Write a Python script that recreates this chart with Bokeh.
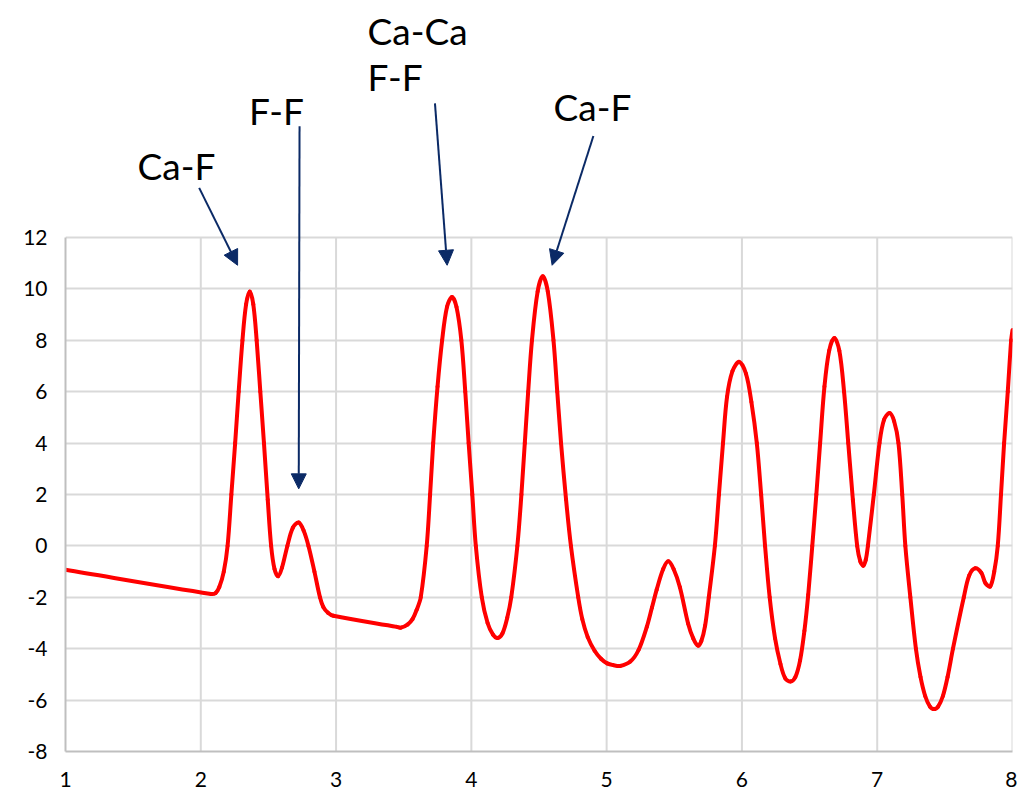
import math
from bokeh.plotting import figure
from bokeh.models import Range1d, FixedTicker, Label, Arrow, NormalHead
from bokeh.embed import file_html
from bokeh.resources import INLINE

# ---- data ----
curve_x = [1.0, 2.076, 2.11, 2.137, 2.17, 2.198, 2.226, 2.254, 2.28, 2.308, 2.335, 2.362,
           2.388, 2.413, 2.44, 2.467, 2.495, 2.52, 2.545, 2.572, 2.60, 2.64, 2.68, 2.723,
           2.76, 2.796, 2.84, 2.881, 2.906, 2.94, 2.98, 3.45, 3.48, 3.53, 3.565, 3.595,
           3.626, 3.67, 3.695, 3.718, 3.75, 3.784, 3.82, 3.857, 3.89, 3.926, 3.955, 3.98,
           4.007, 4.033, 4.077, 4.12, 4.16, 4.194, 4.23, 4.265, 4.295, 4.34, 4.37, 4.395,
           4.42, 4.448, 4.49, 4.528, 4.565, 4.607, 4.635, 4.663, 4.70, 4.736, 4.79, 4.82,
           4.86, 4.911, 4.96, 5.004, 5.05, 5.10, 5.175, 5.236, 5.297, 5.335, 5.37, 5.418,
           5.456, 5.495, 5.541, 5.602, 5.64, 5.675, 5.70, 5.728, 5.755, 5.80, 5.83, 5.86,
           5.89, 5.93, 5.98, 6.03, 6.07, 6.11, 6.142, 6.171, 6.205, 6.245, 6.285, 6.32,
           6.359, 6.395, 6.43, 6.462, 6.49, 6.52, 6.55, 6.578, 6.61, 6.645, 6.683, 6.72,
           6.755, 6.786, 6.82, 6.852, 6.875, 6.897, 6.915, 6.931, 6.975, 7.017, 7.05, 7.091,
           7.125, 7.157, 7.185, 7.208, 7.245, 7.286, 7.32, 7.355, 7.39, 7.42, 7.45, 7.485,
           7.52, 7.56, 7.64, 7.68, 7.725, 7.77, 7.80, 7.835, 7.865, 7.891, 7.915, 7.938,
           7.965, 7.99, 8.0]
curve_y = [-0.93, -1.87, -1.83, -1.6, -1.0, 0.0, 2.0, 4.0, 6.0, 8.0, 9.4, 9.9,
           9.4, 8.0, 6.0, 4.0, 1.8, 0.0, -0.9, -1.18, -0.85, 0.0, 0.7, 0.91,
           0.6, 0.0, -1.0, -2.0, -2.38, -2.6, -2.72, -3.15, -3.18, -3.05, -2.85, -2.5,
           -2.0, 0.0, 2.0, 4.0, 6.2, 8.0, 9.3, 9.68, 9.3, 8.0, 6.0, 4.0,
           2.0, 0.0, -2.0, -3.0, -3.45, -3.58, -3.4, -2.8, -2.0, 0.0, 2.0, 4.0,
           6.0, 8.0, 9.9, 10.49, 9.9, 8.0, 6.0, 4.0, 1.8, 0.0, -2.0, -2.85,
           -3.55, -4.08, -4.4, -4.57, -4.64, -4.67, -4.5, -4.05, -3.15, -2.4, -1.7, -0.9,
           -0.6, -0.9, -1.6, -3.02, -3.6, -3.88, -3.7, -3.1, -2.0, 0.0, 2.0, 4.0,
           5.8, 6.8, 7.16, 6.7, 5.6, 4.0, 2.0, 0.0, -2.0, -3.6, -4.6, -5.15,
           -5.28, -5.1, -4.45, -3.3, -1.9, 0.0, 2.0, 4.0, 6.2, 7.6, 8.09, 7.6,
           6.0, 4.0, 1.8, 0.0, -0.6, -0.77, -0.55, 0.0, 2.0, 4.0, 4.9, 5.17,
           4.85, 4.0, 2.0, 0.0, -2.0, -4.0, -5.1, -5.85, -6.25, -6.35, -6.25, -5.85,
           -5.1, -4.0, -2.0, -1.15, -0.87, -1.05, -1.45, -1.58, -1.0, 0.0, 2.0, 4.0,
           6.0, 8.0, 8.4]

x_ticks = [1, 2, 3, 4, 5, 6, 7, 8]
y_ticks = [-8, -6, -4, -2, 0, 2, 4, 6, 8, 10, 12]

# annotation texts
ann_text = ["Ca-F", "F-F", "Ca-Ca", "F-F", "Ca-F"]
ann_x = [1.820, 2.559, 3.233, 3.233, 4.895]
ann_y = [14.79, 16.95, 20.06, 18.27, 17.11]
ann_align = ["center", "center", "left", "left", "center"]

# arrows (start -> end) in data units
arr_x0 = [1.988, 2.730, 3.731, 4.902]
arr_y0 = [13.93, 16.33, 17.22, 15.95]
arr_x1 = [2.272, 2.724, 3.821, 4.597]
arr_y1 = [10.92, 2.22, 10.92, 10.92]

FONT = "Lato"
NAVY = "#0b2a66"

# ---- layout ----
W, H = 1017, 791
BL, BR, BB = 65, 5, 40
TOP_PX = 237                      # distance of the "12" gridline from the canvas top
frame_w = W - BL - BR
frame_h = H - BB
ymin, ymax = y_ticks[0], y_ticks[-1]
sy = (frame_h - TOP_PX) / (ymax - ymin)
y_top = ymax + TOP_PX / sy
sx = frame_w / (x_ticks[-1] - x_ticks[0])

p = figure(width=W, height=H, output_backend="svg", toolbar_location=None,
           x_range=Range1d(x_ticks[0], x_ticks[-1]), y_range=Range1d(ymin, y_top),
           min_border_left=BL, min_border_right=BR, min_border_top=0,
           min_border_bottom=BB)
p.outline_line_color = None
p.background_fill_color = "white"
p.border_fill_color = "white"

p.xaxis.ticker = FixedTicker(ticks=x_ticks)
p.yaxis.ticker = FixedTicker(ticks=y_ticks)
p.yaxis.bounds = (ymin, ymax)
p.yaxis.major_label_overrides = {t: str(t) for t in y_ticks}
for ax in (p.xaxis, p.yaxis):
    ax.axis_line_color = "#bfbfbf"
    ax.axis_line_width = 2
    ax.major_tick_line_color = None
    ax.minor_tick_line_color = None
    ax.major_tick_out = 0
    ax.major_tick_in = 0
    ax.major_label_text_font = FONT
    ax.major_label_text_font_size = "21px"
    ax.major_label_text_color = "#000000"
p.xaxis.major_label_standoff = 20
p.yaxis.major_label_standoff = 18

p.xgrid.grid_line_color = None
p.ygrid.grid_line_color = "#d9d9d9"
p.ygrid.grid_line_width = 2
p.ygrid.bounds = (x_ticks[0], x_ticks[-1])

# vertical gridlines limited to the value range
p.segment(x0=x_ticks[1:], y0=[ymin] * (len(x_ticks) - 1),
          x1=x_ticks[1:], y1=[ymax] * (len(x_ticks) - 1),
          line_color="#d9d9d9", line_width=2)

# ---- smoothed line (like a spreadsheet's smoothed scatter line) ----
P = [(x * sx, y * sy) for x, y in zip(curve_x, curve_y)]
n = len(P)
def d(i, j):
    return math.hypot(P[j][0] - P[i][0], P[j][1] - P[i][1])
T = []
for i in range(n):
    if i == 0:
        a, b, L = 0, 1, d(0, 1)
    elif i == n - 1:
        a, b, L = n - 2, n - 1, d(n - 2, n - 1)
    else:
        a, b, L = i - 1, i + 1, d(i - 1, i) + d(i, i + 1)
    T.append(((P[b][0] - P[a][0]) / L, (P[b][1] - P[a][1]) / L))
bx0, by0, bx1, by1, cx0, cy0, cx1, cy1 = [], [], [], [], [], [], [], []
for i in range(n - 1):
    L = d(i, i + 1) / 3
    bx0.append(P[i][0] / sx); by0.append(P[i][1] / sy)
    bx1.append(P[i + 1][0] / sx); by1.append(P[i + 1][1] / sy)
    cx0.append((P[i][0] + T[i][0] * L) / sx); cy0.append((P[i][1] + T[i][1] * L) / sy)
    cx1.append((P[i + 1][0] - T[i + 1][0] * L) / sx); cy1.append((P[i + 1][1] - T[i + 1][1] * L) / sy)
p.bezier(x0=bx0, y0=by0, x1=bx1, y1=by1, cx0=cx0, cy0=cy0, cx1=cx1, cy1=cy1,
         line_color="#ff0000", line_width=4, line_cap="round")

for t, x, y, a in zip(ann_text, ann_x, ann_y, ann_align):
    p.add_layout(Label(x=x, y=y, text=t, text_align=a, text_baseline="alphabetic",
                       text_font=FONT, text_font_size="37px", text_color="#000000"))

for x0, y0, x1, y1 in zip(arr_x0, arr_y0, arr_x1, arr_y1):
    p.add_layout(Arrow(x_start=x0, y_start=y0, x_end=x1, y_end=y1,
                       line_color=NAVY, line_width=2,
                       end=NormalHead(size=15, fill_color=NAVY, line_color=NAVY)))

open("out.html", "w").write(file_html(p, INLINE))
